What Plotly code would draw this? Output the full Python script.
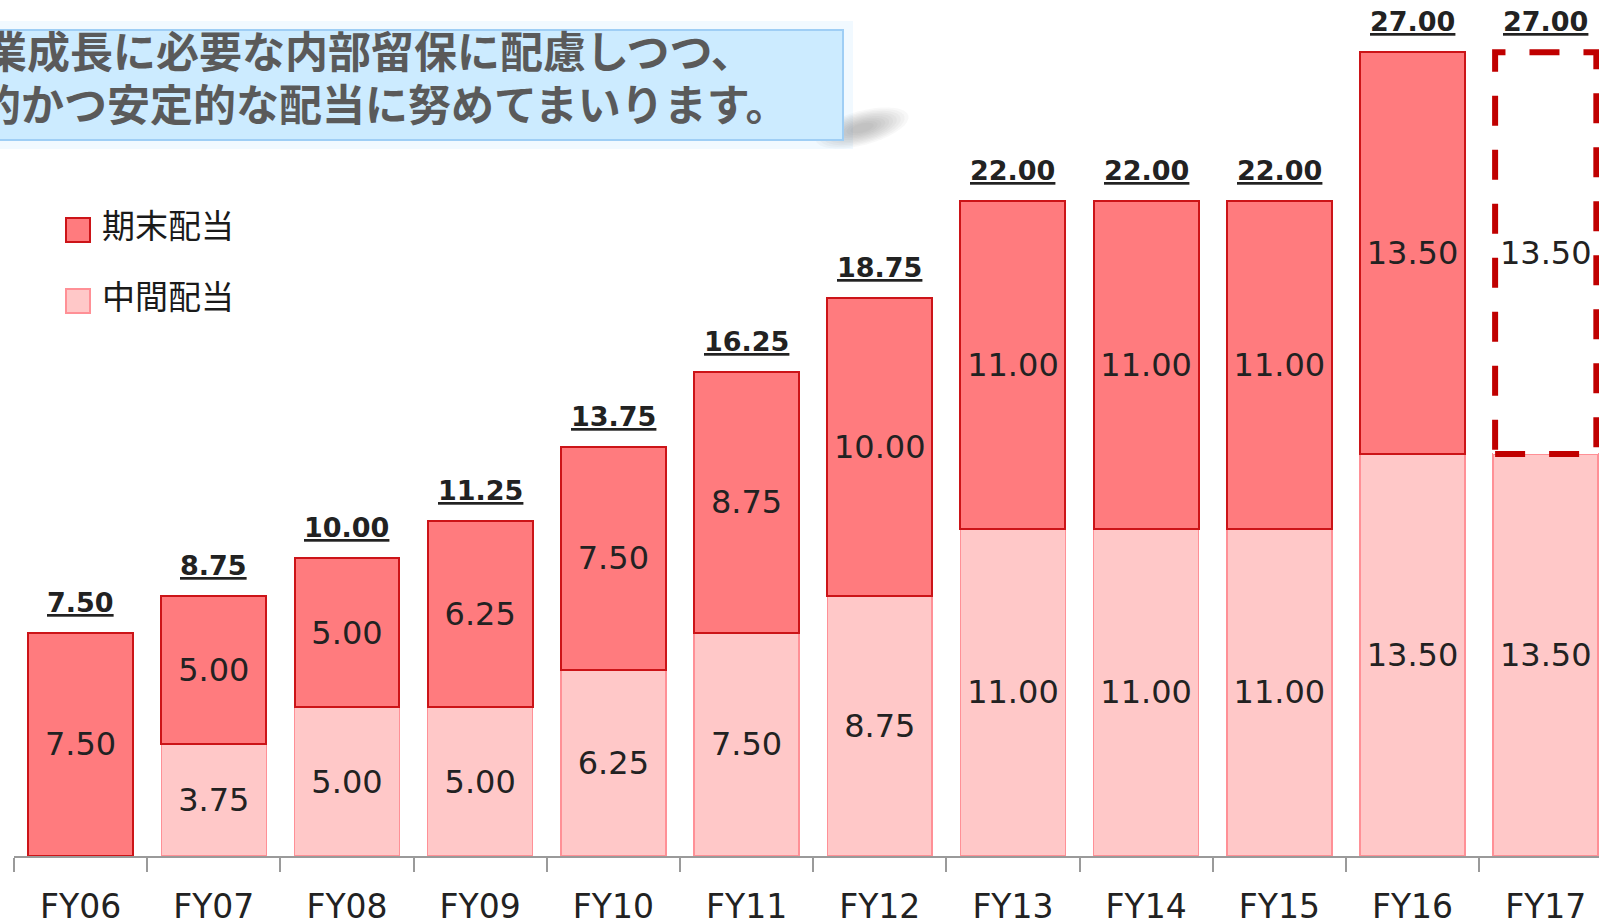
import math
import plotly.graph_objects as go

# data
years = ['FY06', 'FY07', 'FY08', 'FY09', 'FY10', 'FY11',
         'FY12', 'FY13', 'FY14', 'FY15', 'FY16', 'FY17']
interim = [0, 3.75, 5.00, 5.00, 6.25, 7.50, 8.75, 11.00, 11.00, 11.00, 13.50, 13.50]
year_end = [7.50, 5.00, 5.00, 6.25, 7.50, 8.75, 10.00, 11.00, 11.00, 11.00, 13.50, 13.50]
totals = [7.50, 8.75, 10.00, 11.25, 13.75, 16.25, 18.75, 22.00, 22.00, 22.00, 27.00, 27.00]
forecast = [False] * 11 + [True]

legend_names = ['期末配当', '中間配当']
message = ['業成長に必要な内部留保に配慮しつつ、',
           '的かつ安定的な配当に努めてまいります。']

# page geometry
W, H = 1599, 921
ML, MB = 14, 65
PW, PH = W - ML, H - MB
BAR_W = 0.788

END_FILL, END_LINE = '#FF7B7E', '#CC1418'
MID_FILL, MID_LINE = '#FFC8C8', '#FF9096'
NUM_FONT = 'DejaVu Sans, Verdana, sans-serif'
JP_FONT = 'Noto Sans CJK JP, sans-serif'


def px(x):
    return (x - ML) / PW


def py(y):
    return 1 - y / PH


fig = go.Figure()

fig.add_trace(go.Bar(
    x=years, y=interim, name=legend_names[1], width=BAR_W,
    marker=dict(color=MID_FILL, line=dict(color=MID_LINE, width=1.5)),
    text=[f'{v:.2f}' if v else '' for v in interim],
    textposition='inside', insidetextanchor='middle', textangle=0,
    constraintext='none',
    textfont=dict(family=NUM_FONT, size=32, color='#222222'),
    hoverinfo='skip',
))

fig.add_trace(go.Bar(
    x=years, y=year_end, name=legend_names[0], width=BAR_W,
    marker=dict(
        color=['white' if f else END_FILL for f in forecast],
        line=dict(color=['rgba(0,0,0,0)' if f else END_LINE for f in forecast], width=2),
    ),
    text=[f'{v:.2f}' for v in year_end],
    textposition='inside', insidetextanchor='middle', textangle=0,
    constraintext='none',
    textfont=dict(family=NUM_FONT, size=32, color='#222222'),
    hoverinfo='skip',
))

annotations = []
# totals above the bars
for yr, t in zip(years, totals):
    annotations.append(dict(
        x=yr, y=t, xref='x', yref='y', text=f'<u>{t:.2f}</u>', showarrow=False,
        xanchor='center', yanchor='bottom', yshift=13,
        font=dict(family=NUM_FONT, size=27, color='#222222', weight='bold'),
    ))

shapes = []
# dashed outline for the forecast year-end part
for i, f in enumerate(forecast):
    if f:
        shapes.append(dict(
            type='rect', xref='x', yref='y', layer='above',
            x0=i - 0.38, x1=i + 0.38, y0=interim[i], y1=totals[i],
            line=dict(color='#C00000', width=6, dash='30px,24px'),
            fillcolor='rgba(0,0,0,0)',
        ))

# message box: glow, soft shadow, box
shapes.append(dict(type='rect', xref='paper', yref='paper', layer='below',
                   x0=px(-30), x1=px(853), y0=py(21), y1=py(149),
                   fillcolor='rgba(210,235,255,0.30)', line=dict(width=0)))
cx, cy, ang = 862, 128, math.radians(-15)
for k in range(10):
    a, b = 48 - 4 * k, 17 - 1.4 * k
    pts = []
    for j in range(36):
        t = 2 * math.pi * j / 36
        ex, ey = a * math.cos(t), b * math.sin(t)
        pts.append((cx + ex * math.cos(ang) - ey * math.sin(ang),
                    cy + ex * math.sin(ang) + ey * math.cos(ang)))
    path = 'M ' + ' L '.join(f'{px(u):.5f},{py(v):.5f}' for u, v in pts) + ' Z'
    shapes.append(dict(type='path', xref='paper', yref='paper', layer='below',
                       path=path, fillcolor='rgba(90,90,90,0.045)', line=dict(width=0)))
shapes.append(dict(type='rect', xref='paper', yref='paper', layer='below',
                   x0=px(-20), x1=px(843), y0=py(30), y1=py(140),
                   fillcolor='#CCEBFF', line=dict(color='#9FCEF5', width=2)))

for txt, x0, yc in zip(message, [-18, -24], [49, 102]):
    annotations.append(dict(
        x=px(x0), y=py(yc), xref='paper', yref='paper', text=txt, showarrow=False,
        xanchor='left', yanchor='middle',
        font=dict(family=JP_FONT, size=43, color='#5A5A5A', weight='bold'),
    ))

# legend drawn by hand
for name, fill, line, yc in zip(legend_names, [END_FILL, MID_FILL], [END_LINE, MID_LINE], [230, 301]):
    shapes.append(dict(type='rect', xref='paper', yref='paper',
                       x0=px(66), x1=px(90), y0=py(yc - 12), y1=py(yc + 12),
                       fillcolor=fill, line=dict(color=line, width=2)))
    annotations.append(dict(
        x=px(100), y=py(yc - 6), xref='paper', yref='paper', text=name, showarrow=False,
        xanchor='left', yanchor='middle',
        font=dict(family=JP_FONT, size=33, color='#1A1A1A'),
    ))

fig.update_layout(
    width=W, height=H,
    margin=dict(l=ML, r=0, t=0, b=MB, pad=0),
    barmode='stack',
    showlegend=False,
    plot_bgcolor='white', paper_bgcolor='white',
    shapes=shapes, annotations=annotations,
    xaxis=dict(
        type='category', range=[-0.5, 11.4], tickson='boundaries',
        ticks='outside', ticklen=14, tickwidth=2, tickcolor='#9A9A9A',
        showline=True, linecolor='#9A9A9A', linewidth=2, showgrid=False,
        tickfont=dict(family=NUM_FONT, size=33, color='#222222'),
        ticklabelstandoff=20, automargin=False, fixedrange=True,
    ),
    yaxis=dict(visible=False, range=[0, PH / 29.77], fixedrange=True),
)

# page body has a default 8px margin; drop it so the figure sits at the corner
fig.write_html('out.html', config={'displayModeBar': False},
               post_script="document.body.style.margin='0';")
